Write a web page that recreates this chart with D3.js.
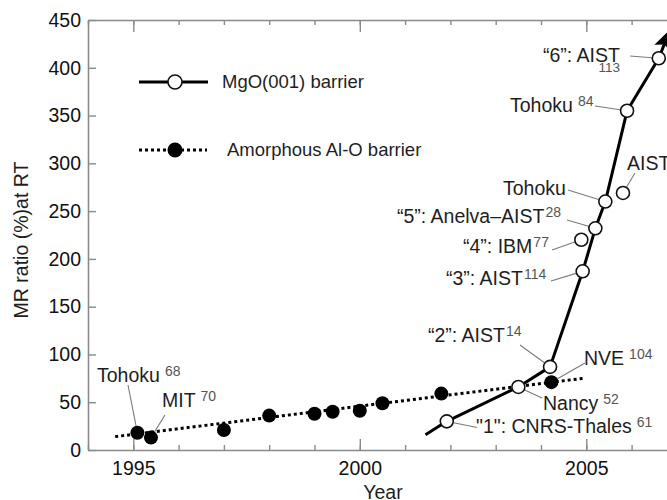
<!DOCTYPE html>
<html>
<head>
<meta charset="utf-8">
<script src="https://cdn.jsdelivr.net/npm/d3@7"></script>
<style>
  body { margin: 0; background: #fff; }
  svg { display: block; font-family: "Liberation Sans", Arial, Helvetica, sans-serif; }
</style>
</head>
<body>
<svg id="chart" width="667" height="500"></svg>
<script>
// Amorphous Al-O barrier: room-temperature MR ratio (%) by year
const alYears  = [1995.09, 1995.39, 1997.0, 1998.0, 1999.0, 1999.4, 2000.0, 2000.5, 2001.8, 2004.23];
const alValues = [18, 13, 21, 36, 38, 40, 41, 49, 59, 71];
// straight trend line through the Al-O results
const alTrendYears  = [1994.6, 2004.93];
const alTrendValues = [14, 75];

// MgO(001) barrier results
const mgoYears  = [2001.92, 2003.5, 2004.2, 2004.92, 2004.89, 2005.2, 2005.42, 2005.81, 2005.9, 2006.6];
const mgoValues = [30, 66, 87, 187, 220, 232, 260, 269, 355, 410];
// MgO progress curve (ends in an arrow)
const mgoTrendYears  = [2001.45, 2001.92, 2003.5, 2004.2, 2004.92, 2005.2, 2005.42, 2005.9, 2006.6, 2006.85];
const mgoTrendValues = [16, 30, 66, 87, 187, 232, 260, 355, 410, 440];

// point labels and reference numbers
const mgoNames = ['"1": CNRS-Thales', 'Nancy', '\u201c2\u201d: AIST', '\u201c3\u201d: AIST', '\u201c4\u201d: IBM',
                  '\u201c5\u201d: Anelva\u2013AIST', 'Tohoku', 'AIST', 'Tohoku', '\u201c6\u201d: AIST'];
const mgoRefs  = ['61', '52', '14', '114', '77', '28', '', '', '84', '113'];
const alNames  = ['Tohoku', 'MIT', '', '', '', '', '', '', '', 'NVE'];
const alRefs   = ['68', '70', '', '', '', '', '', '', '', '104'];

// axis ticks
const yTicks = [0, 50, 100, 150, 200, 250, 300, 350, 400, 450];
const xMajorTicks = [1995, 2000, 2005];
const xMinorTicks = [1994, 1995, 1996, 1997, 1998, 1999, 2000, 2001, 2002, 2003, 2004, 2005, 2006, 2007, 2008, 2009];

const legendNames = ['MgO(001) barrier', 'Amorphous Al-O barrier'];
const yTitle = 'MR ratio (%)at RT';
const xTitle = 'Year';

// ---------------------------------------------------------------- layout
const svg = d3.select('#chart');
const x = d3.scaleLinear().domain([1994, 2009]).range([88, 767.5]);
const y = d3.scaleLinear().domain([0, 450]).range([450, 20]);

const frameColor = '#8a8a8a';
const inkColor = '#1e1e1e';
const refColor = '#555';
const leaderColor = '#7a7a7a';

function styleAxis(g) {
  g.selectAll('.domain').attr('stroke', frameColor).attr('stroke-width', 1.6);
  g.selectAll('.tick line').attr('stroke', frameColor).attr('stroke-width', 1.4);
  g.selectAll('.tick text').attr('fill', '#111').attr('font-size', 19.5)
    .attr('font-family', '"Liberation Sans", Arial, sans-serif');
}

// left axis (ticks pointing into the plot)
svg.append('g').attr('transform', `translate(${x(1994)},0)`)
  .call(d3.axisLeft(y).tickValues(yTicks).tickSizeInner(-8).tickSizeOuter(0).tickPadding(7))
  .call(styleAxis);

// bottom axis: minor year ticks, then labelled majors
svg.append('g').attr('transform', `translate(0,${y(0)})`)
  .call(d3.axisBottom(x).tickValues(xMinorTicks).tickSizeInner(-5).tickSizeOuter(0).tickFormat(''))
  .call(styleAxis);
svg.append('g').attr('transform', `translate(0,${y(0)})`)
  .call(d3.axisBottom(x).tickValues(xMajorTicks).tickSizeInner(-11).tickSizeOuter(0).tickPadding(11).tickFormat(d3.format('d')))
  .call(styleAxis)
  .call(g => g.select('.domain').remove());

// top axis (no labels)
svg.append('g').attr('transform', `translate(0,${y(450)})`)
  .call(d3.axisTop(x).tickValues(xMinorTicks).tickSizeInner(-5).tickSizeOuter(0).tickFormat(''))
  .call(styleAxis);
svg.append('g').attr('transform', `translate(0,${y(450)})`)
  .call(d3.axisTop(x).tickValues(xMajorTicks).tickSizeInner(-12).tickSizeOuter(0).tickFormat(''))
  .call(styleAxis)
  .call(g => g.select('.domain').remove());

// axis titles
svg.append('text')
  .attr('transform', 'translate(28,240) rotate(-90)')
  .attr('text-anchor', 'middle').attr('font-size', 19.5).attr('fill', inkColor)
  .text(yTitle);
svg.append('text')
  .attr('x', 383).attr('y', 499)
  .attr('text-anchor', 'middle').attr('font-size', 19.5).attr('fill', inkColor)
  .text(xTitle);

// ---------------------------------------------------------------- lines
const line = d3.line().x(d => x(d[0])).y(d => y(d[1]));

svg.append('defs').append('marker')
  .attr('id', 'arrow').attr('markerUnits', 'userSpaceOnUse')
  .attr('viewBox', '0 -10 22 20').attr('markerWidth', 22).attr('markerHeight', 20)
  .attr('refX', 20).attr('refY', 0).attr('orient', 'auto')
  .append('path').attr('d', 'M0,-9L20,0L0,9L4,0Z').attr('fill', '#000');

svg.append('path')
  .datum(alTrendYears.map((d, i) => [d, alTrendValues[i]]))
  .attr('d', line).attr('fill', 'none').attr('stroke', '#000')
  .attr('stroke-width', 3).attr('stroke-dasharray', '3,3');

svg.append('path')
  .datum(mgoTrendYears.map((d, i) => [d, mgoTrendValues[i]]))
  .attr('d', line).attr('fill', 'none').attr('stroke', '#000')
  .attr('stroke-width', 3).attr('stroke-linejoin', 'round')
  .attr('marker-end', 'url(#arrow)');

// ---------------------------------------------------------------- annotations
// text start x, baseline y, and the free end of each leader line (pixels)
const mgoLabelLayout = [
  [476, 433, 477, 427.5],
  [543, 410, 542, 398],
  [428, 342, 520, 345],
  [446, 285, 551, 281],
  [463, 253, 552, 250],
  [397, 223, 567, 220],
  [503, 195, 568, 190],
  [627, 170, 635, 173],
  [510, 112, 595, 106],
  [543, 62, 630, 56]
];
const alLabelLayout = {
  0: [97, 382, 128, 385],
  1: [162, 407, 165, 415],
  9: [584, 365, 585, 363]
};
const refGap = { 'Tohoku': 5, 'MIT': 5, 'NVE': 5, 'Nancy': 5, '"1": CNRS-Thales': 5 };

function leader(px, py, lx, ly, r) {
  const dx = lx - px, dy = ly - py, len = Math.hypot(dx, dy);
  svg.append('line')
    .attr('x1', lx).attr('y1', ly)
    .attr('x2', px + dx / len * r).attr('y2', py + dy / len * r)
    .attr('stroke', leaderColor).attr('stroke-width', 1.1);
}

function pointLabel(name, ref, tx, ty, isSub) {
  const t = svg.append('text').attr('x', tx).attr('y', ty)
    .attr('font-size', 19.5).attr('fill', inkColor);
  t.append('tspan').text(name);
  if (ref && !isSub) {
    const gap = refGap[name] || 1;
    t.append('tspan').attr('dx', gap).attr('dy', -6)
      .attr('font-size', 14).attr('fill', refColor).text(ref);
  }
  if (ref && isSub) {
    const w = t.node().getComputedTextLength();
    svg.append('text').attr('x', tx + w).attr('y', ty + 10)
      .attr('text-anchor', 'end').attr('font-size', 13.5).attr('fill', refColor).text(ref);
  }
}

mgoYears.forEach((yr, i) => {
  const [tx, ty, lx, ly] = mgoLabelLayout[i];
  leader(x(yr), y(mgoValues[i]), lx, ly, 7);
  pointLabel(mgoNames[i], mgoRefs[i], tx, ty, i === 9);
});
alYears.forEach((yr, i) => {
  if (!alNames[i]) return;
  const [tx, ty, lx, ly] = alLabelLayout[i];
  leader(x(yr), y(alValues[i]), lx, ly, 7);
  pointLabel(alNames[i], alRefs[i], tx, ty, false);
});

// ---------------------------------------------------------------- markers
svg.append('g').selectAll('circle')
  .data(alYears.map((d, i) => [d, alValues[i]]))
  .join('circle')
  .attr('cx', d => x(d[0])).attr('cy', d => y(d[1])).attr('r', 7)
  .attr('fill', '#000');

svg.append('g').selectAll('circle')
  .data(mgoYears.map((d, i) => [d, mgoValues[i]]))
  .join('circle')
  .attr('cx', d => x(d[0])).attr('cy', d => y(d[1])).attr('r', 6.5)
  .attr('fill', '#fff').attr('stroke', '#111').attr('stroke-width', 1.6);

// ---------------------------------------------------------------- legend
const legend = svg.append('g');
legend.append('line').attr('x1', 139).attr('x2', 208).attr('y1', 82).attr('y2', 82)
  .attr('stroke', '#000').attr('stroke-width', 3);
legend.append('circle').attr('cx', 175).attr('cy', 82).attr('r', 7)
  .attr('fill', '#fff').attr('stroke', '#111').attr('stroke-width', 1.6);
legend.append('text').attr('x', 222).attr('y', 88).attr('font-size', 18.5)
  .attr('fill', inkColor).text(legendNames[0]);

legend.append('line').attr('x1', 139).attr('x2', 207).attr('y1', 150).attr('y2', 150)
  .attr('stroke', '#000').attr('stroke-width', 3).attr('stroke-dasharray', '3,3');
legend.append('circle').attr('cx', 175).attr('cy', 150).attr('r', 7.5).attr('fill', '#000');
legend.append('text').attr('x', 227).attr('y', 156).attr('font-size', 18.5)
  .attr('fill', inkColor).text(legendNames[1]);
</script>
</body>
</html>
